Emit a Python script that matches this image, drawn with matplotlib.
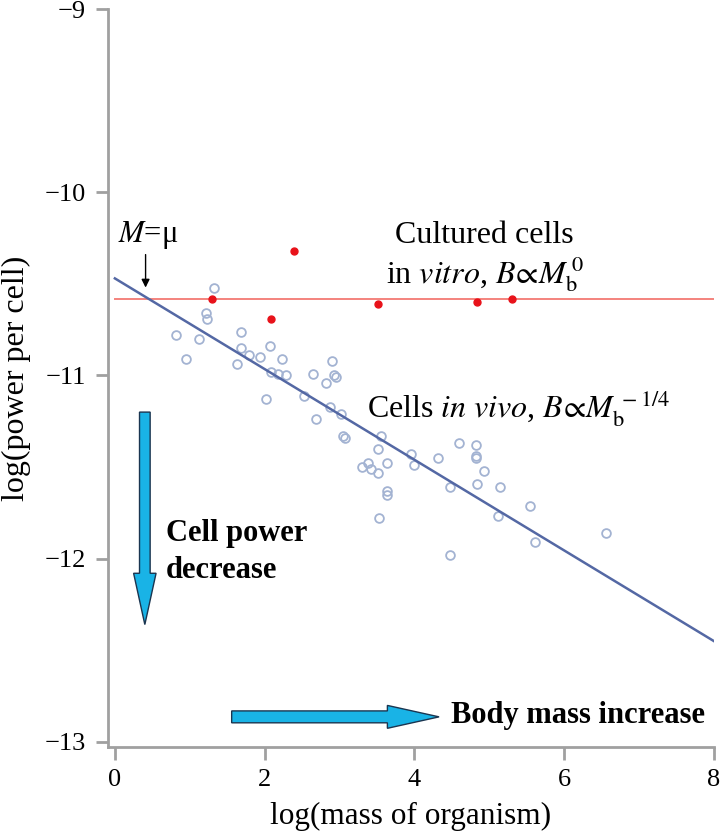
import numpy as np
import matplotlib
matplotlib.use("Agg")
import matplotlib.pyplot as plt

plt.rcParams['font.family'] = ['Liberation Serif', 'DejaVu Serif']
plt.rcParams['mathtext.fontset'] = 'stix'

# cells in vivo (open circles)
vivo_x = [1.32, 1.22, 1.23, 0.81, 1.13, 0.95, 1.68, 1.69, 1.63, 1.79, 1.94, 2.07, 2.23,
          2.08, 2.18, 2.28, 2.02, 2.90, 2.64, 2.93, 2.96, 2.82, 2.52, 2.87, 3.02, 2.69,
          3.05, 3.08, 3.55, 3.51, 3.96, 4.00, 3.63, 3.38, 3.30, 3.42, 3.51, 3.63, 3.64,
          3.53, 4.31, 4.47, 4.59, 4.82, 4.82, 4.82, 4.93, 4.84, 5.14, 5.12, 5.54, 5.61,
          6.56, 4.48]
vivo_y = [-10.52, -10.66, -10.69, -10.78, -10.80, -10.91, -10.76, -10.85, -10.94, -10.89,
          -10.90, -10.84, -10.91, -10.98, -10.99, -11.00, -11.13, -10.92, -10.99, -11.00,
          -11.01, -11.04, -11.11, -11.17, -11.21, -11.24, -11.33, -11.34, -11.33, -11.40,
          -11.43, -11.49, -11.48, -11.48, -11.50, -11.51, -11.53, -11.63, -11.65, -11.78,
          -11.45, -11.61, -11.37, -11.38, -11.44, -11.45, -11.52, -11.59, -11.61, -11.77,
          -11.71, -11.91, -11.86, -11.98]

# cultured cells in vitro (red dots)
vitro_x = [1.30, 2.39, 2.08, 3.52, 4.84, 5.30]
vitro_y = [-10.58, -10.32, -10.69, -10.61, -10.60, -10.58]

# fitted lines
fit_x = [0, 8]
vivo_fit_y = [-10.47, -12.45]
vitro_fit_y = [-10.58, -10.58]

xticks = [0, 2, 4, 6, 8]
yticks = [-13, -12, -11, -10, -9]

fig = plt.figure(figsize=(7.21, 8.34), dpi=100)
ax = fig.add_axes([0.150, 0.104, 0.840, 0.885])

spine_col = '#a0a0a0'
ax.spines['top'].set_visible(False)
ax.spines['right'].set_visible(False)
ax.spines['left'].set_color(spine_col)
ax.spines['bottom'].set_color(spine_col)
ax.spines['left'].set_linewidth(2)
ax.spines['bottom'].set_linewidth(2)
ax.tick_params(axis='both', colors=spine_col, length=9, width=2, labelsize=19,
               labelcolor='black')
ax.tick_params(axis='y', pad=7)
ax.tick_params(axis='x', pad=7)

ax.plot(fit_x, vitro_fit_y, color='#f4837d', lw=1.4, zorder=2)
ax.plot(fit_x, vivo_fit_y, color='#5468a4', lw=1.8, zorder=3)
ax.plot(vivo_x, vivo_y, 'o', mfc='none', mec='#a3b3d2', ms=6.3, mew=1.3, zorder=2)
ax.plot(vitro_x, vitro_y, 'o', color='#e8121a', ms=5, zorder=4)

ax.set_xlim(-0.09, 8.0)
ax.set_ylim(-13.03, -9.0)
ax.set_xticks(xticks)
ax.set_yticks(yticks)
ax.set_yticklabels(['\u221213', '\u221212', '\u221211', '\u221210', '\u22129'])

ax.set_xlabel('log(mass of organism)', fontsize=22.5)
ax.set_ylabel('log(power per cell)', fontsize=23)
ax.xaxis.set_label_coords(0.5, -0.074)
ax.yaxis.set_label_coords(-0.127, 0.5)

# M = mu marker
ax.annotate('', xy=(0.41, -10.52), xytext=(0.41, -10.34),
            arrowprops=dict(arrowstyle='-|>', color='black', lw=1.0,
                            mutation_scale=12, shrinkA=0, shrinkB=0))
ax.text(0.45, -10.235, r'$M$=μ', fontsize=22, ha='center', va='center')

ax.text(4.93, -10.235, 'Cultured cells', fontsize=23, ha='center', va='center')
ax.text(4.94, -10.45, r'in $\mathit{vitro}$, $B\!\propto\!M_{\mathrm{b}}^{\,0}$',
        fontsize=23, ha='center', va='center')
ax.text(3.37, -11.18, r'Cells $\mathit{in\ vivo}$, $B\!\propto\!M_{\mathrm{b}}^{\,-1/4}$',
        fontsize=23, ha='left', va='center')

# big cyan arrows
arrow_fc = '#19b3e6'
arrow_ec = '#1b3550'
ax.arrow(0.40, -11.20, 0, -1.16 + 0.28, width=0.142, head_width=0.30,
         head_length=0.28, length_includes_head=False, fc=arrow_fc, ec=arrow_ec,
         lw=1.0, zorder=5)
ax.arrow(1.56, -12.864, 2.77 - 0.69, 0, width=0.065, head_width=0.125,
         head_length=0.69, length_includes_head=False, fc=arrow_fc, ec=arrow_ec,
         lw=1.0, zorder=5)

ax.text(0.68, -11.965, 'Cell power\ndecrease', fontsize=22, fontweight='bold',
        ha='left', va='center', linespacing=1.35)
ax.text(4.49, -12.859, 'Body mass increase', fontsize=22, fontweight='bold',
        ha='left', va='center')

fig.savefig('out.png', dpi=100)
